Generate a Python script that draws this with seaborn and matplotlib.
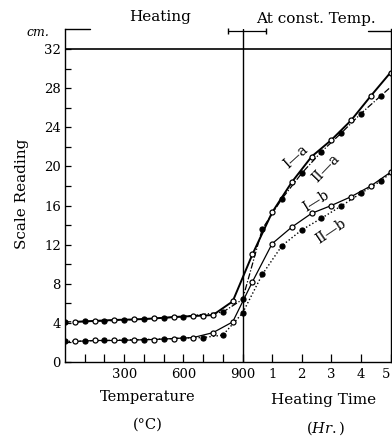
import numpy as np
import pandas as pd
import seaborn as sns
import matplotlib.pyplot as plt

# readings during heating (deg C) and at constant temperature (hours)
ia_temp = [50, 150, 250, 350, 450, 550, 650, 700, 750, 850]
ia_temp_val = [4.1, 4.2, 4.3, 4.35, 4.45, 4.6, 4.7, 4.75, 4.8, 6.2]
ia_hr = [1/3, 1, 5/3, 7/3, 3, 11/3, 13/3, 5]
ia_hr_val = [11.0, 15.3, 18.4, 21.0, 22.7, 24.7, 27.2, 29.6]

iia_temp = [0, 100, 200, 300, 400, 500, 600, 800, 900]
iia_temp_val = [4.1, 4.15, 4.2, 4.3, 4.4, 4.5, 4.65, 5.1, 6.4]
iia_hr = [2/3, 4/3, 2, 8/3, 10/3, 4, 14/3, 5]
iia_hr_val = [13.6, 16.7, 19.3, 21.5, 23.4, 25.4, 27.2, 28.1]

ib_temp = [50, 150, 250, 350, 450, 550, 650, 750, 850]
ib_temp_val = [2.1, 2.2, 2.2, 2.25, 2.3, 2.4, 2.5, 3.0, 4.1]
ib_hr = [1/3, 1, 5/3, 7/3, 3, 11/3, 13/3, 5]
ib_hr_val = [8.2, 12.1, 13.8, 15.2, 16.0, 16.9, 18.0, 19.4]

iib_temp = [0, 100, 200, 300, 400, 500, 600, 700, 800, 900]
iib_temp_val = [2.1, 2.15, 2.2, 2.25, 2.3, 2.35, 2.45, 2.5, 2.75, 5.0]
iib_hr = [2/3, 4/3, 2, 8/3, 10/3, 4, 14/3, 5]
iib_hr_val = [8.95, 11.9, 13.5, 14.7, 15.95, 17.25, 18.5, 19.3]

temp_ticks = [300, 600, 900]
hour_ticks = [1, 2, 3, 4, 5]
y_ticks = [0, 4, 8, 12, 16, 20, 24, 28, 32]

T_END = 900      # heating ends here, time axis starts
PER_HR = 150     # one hour drawn as wide as 150 deg C


def to_x(temps, hours):
    return list(temps) + [T_END + PER_HR * h for h in hours]


sns.set_style("ticks")
plt.rcParams['font.family'] = ['DejaVu Serif']
plt.rcParams['mathtext.fontset'] = 'dejavuserif'
for k in ['text.color', 'axes.labelcolor', 'xtick.color', 'ytick.color']:
    plt.rcParams[k] = 'black'

W, H = 392, 436
fig = plt.figure(figsize=(W / 100, H / 100), dpi=100)
ax = fig.add_axes([65 / W, (H - 362) / H, 325.5 / W, 333 / H])


def px(x, y):
    return x / W, 1 - y / H


def draw(temps, tv, hours, hv, face, ls, lw, n_mark):
    df = pd.DataFrame({'x': to_x(temps, hours), 'y': list(tv) + list(hv)})
    sns.lineplot(data=df, x='x', y='y', ax=ax, color='black', linestyle=ls,
                 linewidth=lw, marker='o', markersize=3.6, markerfacecolor=face,
                 markeredgecolor='black', markeredgewidth=0.9,
                 markevery=list(range(n_mark)), estimator=None, sort=False)


draw(iib_temp, iib_temp_val, iib_hr, iib_hr_val, 'black', (0, (1, 1.6)), 1.0,
     len(iib_temp) + len(iib_hr) - 1)
draw(ib_temp, ib_temp_val, ib_hr, ib_hr_val, 'white', '-', 0.9,
     len(ib_temp) + len(ib_hr))
draw(iia_temp, iia_temp_val, iia_hr, iia_hr_val, 'black', (0, (5, 1.5, 1, 1.5)), 0.9,
     len(iia_temp) + len(iia_hr) - 1)
draw(ia_temp, ia_temp_val, ia_hr, ia_hr_val, 'white', '-', 1.4,
     len(ia_temp) + len(ia_hr))

x_max = T_END + PER_HR * hour_ticks[-1]
ax.set_xlim(0, x_max)
ax.set_ylim(0, 34.05)
ax.set_xlabel('')
ax.set_ylabel('')

ax.axhline(32, color='black', linewidth=1.2)
ax.axvline(T_END, color='black', linewidth=1.0)
ax.plot([0, 125], [34.05, 34.05], color='black', linewidth=1.0, clip_on=False)
ax.plot([826, 1019], [33.85, 33.85], color='black', linewidth=0.9,
        marker='|', markersize=4, markevery=[0, 1], clip_on=False)
ax.plot([1536, x_max], [33.8, 33.8], color='black', linewidth=1.0, clip_on=False)

for s in ['left', 'bottom', 'right']:
    ax.spines[s].set_linewidth(1.0)
    ax.spines[s].set_color('black')
ax.spines['top'].set_visible(False)

ax.set_xticks(temp_ticks + [T_END + PER_HR * h for h in hour_ticks])
ax.set_xticklabels([str(t) for t in temp_ticks] + [str(h) for h in hour_ticks])
ax.set_xticks([100, 200, 400, 500, 700, 800], minor=True)
ax.set_yticks(y_ticks)
ax.set_yticks(np.arange(2, 34, 4), minor=True)
ax.tick_params(axis='both', which='both', direction='in', colors='black',
               labelsize=9.5, width=0.9)
ax.tick_params(axis='x', which='both', length=6, pad=4)
ax.tick_params(axis='y', which='both', length=4, pad=3)
# last hour label sits right on the figure edge
ax.get_xticklabels()[-1].set_horizontalalignment('right')

fig.text(*px(38, 32), 'cm.', style='italic', fontsize=9, ha='center', va='center')
fig.text(*px(160, 17), 'Heating', fontsize=11, ha='center', va='center')
fig.text(*px(316, 19), 'At const. Temp.', fontsize=11, ha='center', va='center')
fig.text(*px(22, 194), 'Scale Reading', fontsize=11, rotation=90,
         ha='center', va='center')
fig.text(*px(148, 397), 'Temperature', fontsize=10.5, ha='center', va='center')
fig.text(*px(148, 425), '(°C)', fontsize=10.5, ha='center', va='center')
fig.text(*px(324, 400), 'Heating Time', fontsize=11, ha='center', va='center')
fig.text(*px(326, 428), '($\\mathit{Hr.}$)', fontsize=10.5, ha='center', va='center')

fig.text(*px(296, 157), 'I—a', fontsize=10, rotation=42, ha='center', va='center')
fig.text(*px(326, 168), 'II—a', fontsize=10, rotation=46, ha='center', va='center')
fig.text(*px(316, 201), 'I—b', fontsize=10, rotation=32, ha='center', va='center')
fig.text(*px(331, 231), 'II—b', fontsize=10, rotation=34, ha='center', va='center')

fig.savefig('out.png', dpi=100, facecolor='white')
